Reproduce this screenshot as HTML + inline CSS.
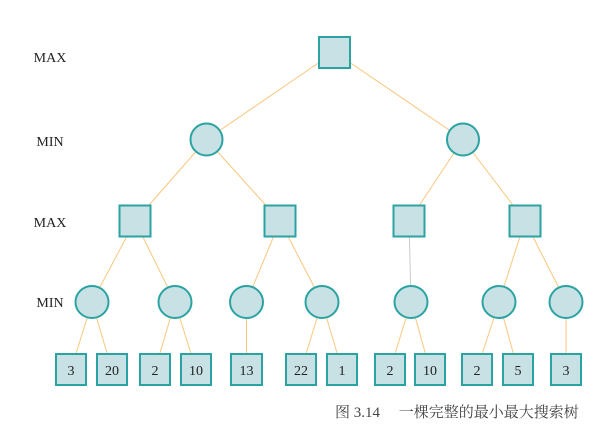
<!DOCTYPE html>
<html><head><meta charset="utf-8"><style>
body{margin:0;background:#fff}
svg{display:block}
text{font-family:"Liberation Serif","Noto Serif CJK SC",serif;fill:#222}
</style></head><body>
<svg width="600" height="431" viewBox="0 0 600 431">
<g stroke="#f8c77e" stroke-width="1">
<line x1="334.5" y1="52" x2="206.5" y2="139.5"/>
<line x1="334.5" y1="52" x2="463" y2="139.5"/>
<line x1="206.5" y1="139.5" x2="135" y2="221"/>
<line x1="206.5" y1="139.5" x2="280" y2="221"/>
<line x1="463" y1="139.5" x2="409" y2="221"/>
<line x1="463" y1="139.5" x2="525" y2="221"/>
<line x1="135" y1="221" x2="92" y2="302"/>
<line x1="135" y1="221" x2="175" y2="302"/>
<line x1="280" y1="221" x2="246.5" y2="302"/>
<line x1="280" y1="221" x2="322" y2="302"/>
<line x1="409" y1="221" x2="411" y2="302" stroke="#ccc"/>
<line x1="525" y1="221" x2="499" y2="302"/>
<line x1="525" y1="221" x2="566" y2="302"/>
<line x1="92" y1="302" x2="71" y2="370"/>
<line x1="92" y1="302" x2="112" y2="370"/>
<line x1="175" y1="302" x2="155" y2="370"/>
<line x1="175" y1="302" x2="196" y2="370"/>
<line x1="246.5" y1="302" x2="246.5" y2="370"/>
<line x1="322" y1="302" x2="301" y2="370"/>
<line x1="322" y1="302" x2="342" y2="370"/>
<line x1="411" y1="302" x2="390" y2="370"/>
<line x1="411" y1="302" x2="430" y2="370"/>
<line x1="499" y1="302" x2="477" y2="370"/>
<line x1="499" y1="302" x2="518" y2="370"/>
<line x1="566" y1="302" x2="566" y2="370"/>
</g>
<g fill="#c8e1e4" stroke="#2ba3a3" stroke-width="2">
<rect x="319" y="37" width="31" height="31"/>
<circle cx="206.5" cy="139.5" r="16"/>
<circle cx="463" cy="139.5" r="16"/>
<rect x="119.5" y="205.5" width="31" height="31"/>
<rect x="264.5" y="205.5" width="31" height="31"/>
<rect x="393.5" y="205.5" width="31" height="31"/>
<rect x="509.5" y="205.5" width="31" height="31"/>
<ellipse cx="92" cy="302" rx="16.5" ry="16"/>
<ellipse cx="175" cy="302" rx="16.5" ry="16"/>
<ellipse cx="246.5" cy="302" rx="16.5" ry="16"/>
<ellipse cx="322" cy="302" rx="16.5" ry="16"/>
<ellipse cx="411" cy="302" rx="16.5" ry="16"/>
<ellipse cx="499" cy="302" rx="16.5" ry="16"/>
<ellipse cx="566" cy="302" rx="16.5" ry="16"/>
<rect x="56" y="354" width="30" height="31"/>
<rect x="97" y="354" width="30" height="31"/>
<rect x="140" y="354" width="30" height="31"/>
<rect x="181" y="354" width="30" height="31"/>
<rect x="231" y="354" width="31" height="31"/>
<rect x="286" y="354" width="30" height="31"/>
<rect x="327" y="354" width="30" height="31"/>
<rect x="375" y="354" width="30" height="31"/>
<rect x="415" y="354" width="30" height="31"/>
<rect x="462" y="354" width="30" height="31"/>
<rect x="503" y="354" width="30" height="31"/>
<rect x="551" y="354" width="30" height="31"/>
</g>
<g font-size="14" text-anchor="middle">
<text x="71" y="375">3</text><text x="112" y="375">20</text>
<text x="155" y="375">2</text><text x="196" y="375">10</text>
<text x="246.5" y="375">13</text><text x="301" y="375">22</text>
<text x="342" y="375">1</text><text x="390" y="375">2</text>
<text x="430" y="375">10</text><text x="477" y="375">2</text>
<text x="518" y="375">5</text><text x="566" y="375">3</text>
</g>
<g font-size="14" text-anchor="middle">
<text x="50" y="62">MAX</text>
<text x="50" y="146">MIN</text>
<text x="50" y="227">MAX</text>
<text x="50" y="307">MIN</text>
</g>
<text x="335" y="417" font-size="15" style="fill:#444">图 3.14　 一棵完整的最小最大搜索树</text>
</svg>
</body></html>
